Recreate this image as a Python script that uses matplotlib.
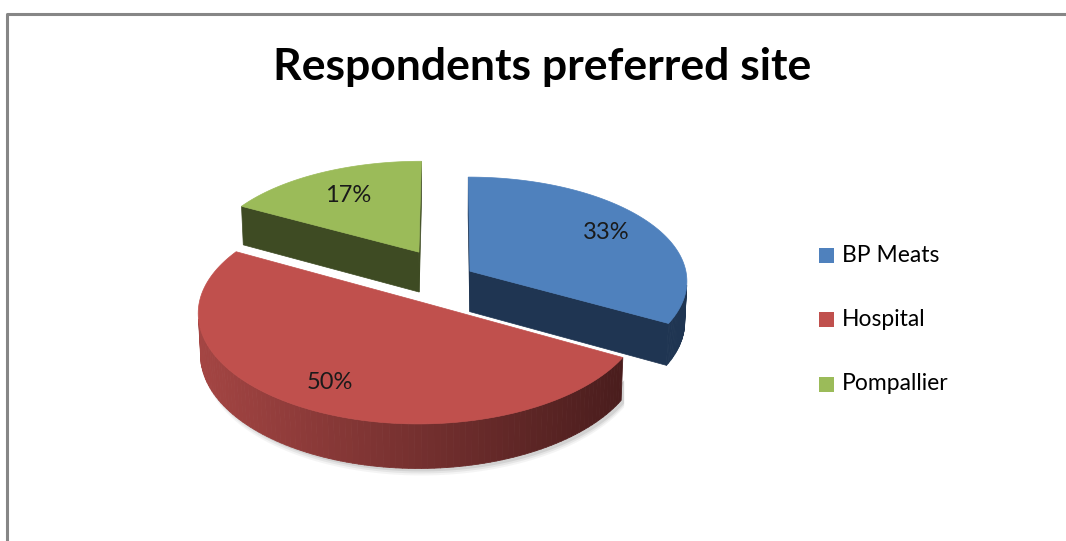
import numpy as np
import matplotlib.pyplot as plt
from matplotlib.patches import Polygon, Rectangle
from matplotlib.collections import PolyCollection

# chart data
labels = ['BP Meats', 'Hospital', 'Pompallier']
shares = [33, 50, 17]
title = 'Respondents preferred site'

top_colors = ['#4F81BD', '#C0504D', '#9BBB59']
side_colors = [('#1F3552', '#1F3552'), ('#A44543', '#4A1D1D'), ('#3E4B23', '#3E4B23')]

W, H = 1066, 541

# fake 3d camera (pixel space)
CX, CY = 449.5, 277
A = 217.0        # horizontal radius at depth 0
DH = 10.0        # horizontal perspective distance
S = 2072.0
D = 9.0          # vertical perspective distance
elev = np.radians(27)
THICK = 0.2
explode = [0.11, 0.267, 0.283]
label_r = [0.76, 0.78, 0.7]

sn, cs = np.sin(elev), np.cos(elev)
cam = np.array([0.0, D * sn, D * cs])


def proj(X, Z, Y=0.0):
    depth = Y * sn + Z * cs
    v = Y * cs - Z * sn
    return CX + A * X * DH / (DH - depth), CY - S * v / (D - depth)


def facing(normal, point):
    return np.dot(normal, cam - np.asarray(point)) > 0


def mix(c1, c2, t):
    a = np.array(plt.matplotlib.colors.to_rgb(c1))
    b = np.array(plt.matplotlib.colors.to_rgb(c2))
    return tuple(a + (b - a) * t)


fig = plt.figure(figsize=(W / 100, H / 100), dpi=100)
ax = fig.add_axes([0, 0, 1, 1])
ax.set_xlim(0, W)
ax.set_ylim(H, 0)
ax.axis('off')

# border
ax.plot([7, 7, W + 5], [H + 5, 14, 14], color='#868686', lw=2.2, solid_capstyle='butt')

ax.text(542, 80, title, ha='center', va='baseline', fontsize=32,
        fontweight='bold', family='Lato', color='black')

total = float(sum(shares))
slices = []
start = 90.0
for i, v in enumerate(shares):
    end = start - 360.0 * v / total
    mid = np.radians((start + end) / 2)
    ox, oz = explode[i] * np.cos(mid), -explode[i] * np.sin(mid)
    slices.append((i, start, end, mid, ox, oz))
    start = end

# far slices first
slices.sort(key=lambda s: s[5])

for i, th0, th1, mid, ox, oz in slices:
    thetas = np.radians(np.linspace(th0, th1, 120))
    rimx = ox + np.cos(thetas)
    rimz = oz - np.sin(thetas)

    # shadow under the front wall
    if oz > 0.05:
        bot = [proj(x, z, -THICK) for x, z in zip(rimx, rimz) if z > oz]
        if bot:
            bx = np.array([p[0] for p in bot])
            by = np.array([p[1] for p in bot])
            for k, a in zip([7, 5, 3], [0.08, 0.12, 0.18]):
                ax.fill(np.r_[bx + 3, bx[::-1] + 3], np.r_[by + k, by[::-1] - 20],
                        color='#7f7f7f', alpha=a, lw=0)

    # radial faces
    for th, sign in [(np.radians(th0), 1), (np.radians(th1), -1)]:
        n = sign * np.array([-np.sin(th), 0, -np.cos(th)])
        rx, rz = ox + np.cos(th), oz - np.sin(th)
        if facing(n, [(ox + rx) / 2, -THICK / 2, (oz + rz) / 2]):
            pts = [proj(ox, oz), proj(rx, rz), proj(rx, rz, -THICK), proj(ox, oz, -THICK)]
            ax.add_patch(Polygon(pts, closed=True, fc=side_colors[i][0], ec=side_colors[i][0], lw=0.5))

    # outer wall
    quads, cols = [], []
    xs_all = []
    for k in range(len(thetas) - 1):
        tm = (thetas[k] + thetas[k + 1]) / 2
        n = np.array([np.cos(tm), 0, -np.sin(tm)])
        if not facing(n, [ox + np.cos(tm), -THICK / 2, oz - np.sin(tm)]):
            continue
        q = [proj(rimx[k], rimz[k]), proj(rimx[k + 1], rimz[k + 1]),
             proj(rimx[k + 1], rimz[k + 1], -THICK), proj(rimx[k], rimz[k], -THICK)]
        quads.append(q)
        xs_all.append(q[0][0])
    if quads:
        lo, hi = min(xs_all), max(xs_all)
        for q in quads:
            t = (q[0][0] - lo) / max(hi - lo, 1)
            cols.append(mix(side_colors[i][0], side_colors[i][1], t))
        ax.add_collection(PolyCollection(quads, facecolors=cols, edgecolors=cols, linewidths=0.6))

    # top face
    top = [proj(ox, oz)] + [proj(x, z) for x, z in zip(rimx, rimz)]
    ax.add_patch(Polygon(top, closed=True, fc=top_colors[i], ec=top_colors[i], lw=0.5))

    lx, ly = proj(ox + label_r[i] * np.cos(mid), oz - label_r[i] * np.sin(mid))
    ax.text(lx, ly, '{}%'.format(shares[i]), ha='center', va='center',
            fontsize=17, family='Lato', color='#1a1a1a')

# legend
for k, name in enumerate(labels):
    y = 255 + 64.5 * k
    ax.add_patch(Rectangle((819, y - 7.5), 15, 15, fc=top_colors[k], ec='none'))
    ax.text(842, y, name, ha='left', va='center', fontsize=16.5, family='Lato', color='black')

fig.savefig('out.png', dpi=100)
